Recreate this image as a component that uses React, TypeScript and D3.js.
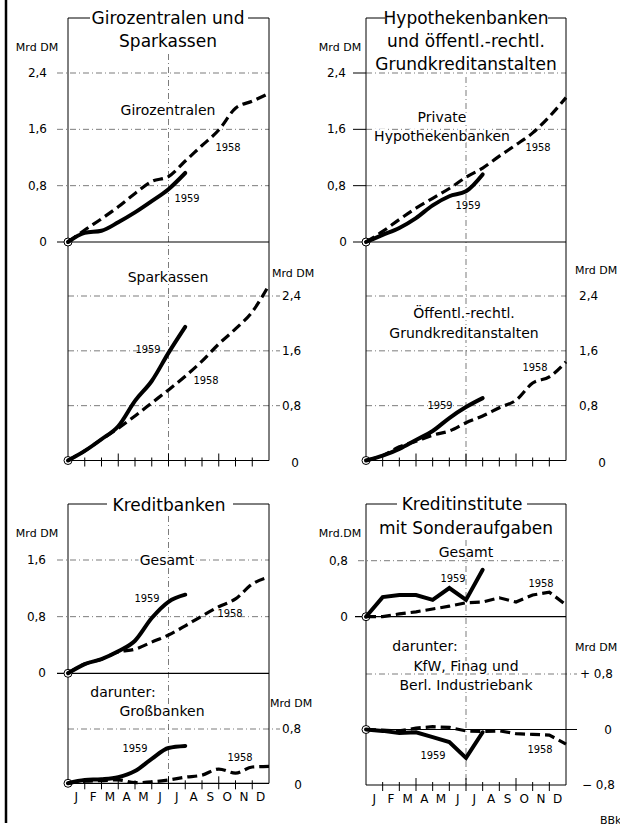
import React from "react";
import * as d3 from "d3";

const months = ["J", "F", "M", "A", "M", "J", "J", "A", "S", "O", "N", "D"];

// cumulative values (Mrd DM) at month ends; index 0 = start of year
const giro1958 = [0, 0.17, 0.33, 0.5, 0.69, 0.86, 0.93, 1.15, 1.37, 1.59, 1.9, 2.0, 2.11];
const giro1959 = [0, 0.13, 0.16, 0.28, 0.42, 0.58, 0.75, 0.98];
const spk1958 = [0, 0.14, 0.31, 0.47, 0.65, 0.84, 1.03, 1.23, 1.45, 1.7, 1.92, 2.17, 2.56];
const spk1959 = [0, 0.14, 0.31, 0.5, 0.87, 1.16, 1.57, 1.95];
const hyp1958 = [0, 0.15, 0.32, 0.48, 0.62, 0.76, 0.92, 1.05, 1.22, 1.38, 1.55, 1.78, 2.05];
const hyp1959 = [0, 0.1, 0.2, 0.34, 0.52, 0.65, 0.72, 0.96];
const oeff1958 = [0, 0.07, 0.2, 0.28, 0.37, 0.43, 0.55, 0.65, 0.77, 0.88, 1.13, 1.22, 1.44];
const oeff1959 = [0, 0.07, 0.17, 0.3, 0.43, 0.62, 0.78, 0.91];
const kb1958 = [0, 0.13, 0.2, 0.3, 0.34, 0.44, 0.54, 0.67, 0.81, 0.94, 1.05, 1.26, 1.36];
const kb1959 = [0, 0.13, 0.2, 0.31, 0.46, 0.78, 1.01, 1.11];
const gb1958 = [0, 0.03, 0.04, 0.05, 0.01, 0.02, 0.05, 0.09, 0.12, 0.21, 0.15, 0.24, 0.25];
const gb1959 = [0, 0.05, 0.06, 0.09, 0.18, 0.36, 0.52, 0.55];
const ks1958 = [0, 0.0, 0.04, 0.07, 0.11, 0.15, 0.2, 0.21, 0.27, 0.21, 0.31, 0.35, 0.17];
const ks1959 = [0, 0.28, 0.31, 0.31, 0.24, 0.41, 0.24, 0.67];
const kfw1958 = [0, -0.01, -0.02, 0.02, 0.04, 0.03, -0.02, -0.03, -0.02, -0.06, -0.07, -0.08, -0.21];
const kfw1959 = [0, -0.02, -0.05, -0.04, -0.11, -0.18, -0.41, -0.04];

const ticks24 = [0.8, 1.6, 2.4];
const tickLabels24 = ["0,8", "1,6", "2,4"];
const ticks16 = [0.8, 1.6];
const tickLabels16 = ["0,8", "1,6"];

const FONT = "'DejaVu Sans', sans-serif";
const FONT_C = "'DejaVu Sans Condensed', 'DejaVu Sans', sans-serif";
const GRID = "6 3 1 3";

type Sub = {
  x0: number; x1: number;
  yDom: [number, number]; yRng: [number, number];
  s58: number[]; s59: number[];
  curve: any;
};

function Lines({ sub }: { sub: Sub }) {
  const x = d3.scaleLinear().domain([0, 12]).range([sub.x0, sub.x1]);
  const y = d3.scaleLinear().domain(sub.yDom).range(sub.yRng);
  const line = d3.line<number>().x((_, i) => x(i)).y((d) => y(d)).curve(sub.curve);
  return (
    <g>
      <circle cx={x(0)} cy={y(0)} r={4} fill="#fff" stroke="#000" strokeWidth={1} />
      <path d={line(sub.s58) || ""} fill="none" stroke="#000" strokeWidth={3.2} strokeDasharray="10 5" />
      <path d={line(sub.s59) || ""} fill="none" stroke="#000" strokeWidth={4} strokeLinecap="round" />
    </g>
  );
}

function T(props: any) {
  const { x, y, size = 12, anchor = "middle", family = FONT, halo = false, children, ...rest } = props;
  return (
    <text
      x={x} y={y} fontSize={size} textAnchor={anchor} dominantBaseline="central" fontFamily={family} fill="#000"
      stroke={halo ? "#fff" : "none"} strokeWidth={halo ? 4 : 0} paintOrder="stroke" {...rest}
    >
      {children}
    </text>
  );
}

function XAxis({ x0, x1, y, labels }: { x0: number; x1: number; y: number; labels: boolean }) {
  const x = d3.scaleLinear().domain([0, 12]).range([x0, x1]);
  const b = d3.range(1, 12);
  return (
    <g>
      <line x1={x0} x2={x1} y1={y} y2={y} stroke="#000" strokeWidth={1.2} />
      {b.map((i) => (
        <line key={i} x1={x(i)} x2={x(i)} y1={i % 3 === 0 ? y - 7 : y - 3} y2={y + 6} stroke="#000" strokeWidth={1} />
      ))}
      {labels && months.map((m, i) => (
        <T key={i} x={x(i + 0.5)} y={y + 14} size={12}>{m}</T>
      ))}
    </g>
  );
}

function HGrid({ x0, x1, y }: { x0: number; x1: number; y: number }) {
  return <line x1={x0} x2={x1} y1={y} y2={y} stroke="#444" strokeWidth={0.7} strokeDasharray={GRID} />;
}

export default function App() {
  const L0 = 68, L1 = 269, R0 = 366, R1 = 566;
  const xL = d3.scaleLinear().domain([0, 12]).range([L0, L1]);
  const xR = d3.scaleLinear().domain([0, 12]).range([R0, R1]);

  const yTL = d3.scaleLinear().domain([0, 2.4]).range([242, 73]);
  const yML = d3.scaleLinear().domain([0, 2.4]).range([460.5, 296]);
  const yBL = d3.scaleLinear().domain([0, 1.6]).range([673.3, 560]);
  const yGB = d3.scaleLinear().domain([0, 0.8]).range([783.3, 729]);
  const yBR = d3.scaleLinear().domain([0, 0.8]).range([616.7, 560.7]);
  const yKF = d3.scaleLinear().domain([-0.8, 0.8]).range([785, 674]);

  const mono = d3.curveMonotoneX;
  const lin = d3.curveLinear;

  const subs: Sub[] = [
    { x0: L0, x1: L1, yDom: [0, 2.4], yRng: [242, 73], s58: giro1958, s59: giro1959, curve: mono },
    { x0: L0, x1: L1, yDom: [0, 2.4], yRng: [460.5, 296], s58: spk1958, s59: spk1959, curve: mono },
    { x0: R0, x1: R1, yDom: [0, 2.4], yRng: [242, 73], s58: hyp1958, s59: hyp1959, curve: mono },
    { x0: R0, x1: R1, yDom: [0, 2.4], yRng: [460.5, 296], s58: oeff1958, s59: oeff1959, curve: mono },
    { x0: L0, x1: L1, yDom: [0, 1.6], yRng: [673.3, 560], s58: kb1958, s59: kb1959, curve: mono },
    { x0: L0, x1: L1, yDom: [0, 0.8], yRng: [783.3, 729], s58: gb1958, s59: gb1959, curve: mono },
    { x0: R0, x1: R1, yDom: [0, 0.8], yRng: [616.7, 560.7], s58: ks1958, s59: ks1959, curve: lin },
    { x0: R0, x1: R1, yDom: [-0.8, 0.8], yRng: [785, 674], s58: kfw1958, s59: kfw1959, curve: lin },
  ];

  const frame = (x0: number, x1: number, top: number, bottom: number, gapL: number, gapR: number) => (
    <g stroke="#000" strokeWidth={1} fill="none">
      <line x1={x0} x2={gapL} y1={top} y2={top} />
      <line x1={gapR} x2={x1} y1={top} y2={top} />
      <line x1={x0} x2={x0} y1={top} y2={bottom} />
      <line x1={x1} x2={x1} y1={top} y2={bottom} />
    </g>
  );

  return (
    <svg width={620} height={830} style={{ position: "absolute", left: 0, top: 0, background: "#fff" }}>
      <rect width={620} height={830} fill="#fff" />
      <line x1={6} x2={6} y1={0} y2={823} stroke="#000" strokeWidth={2.5} />

      {/* ---------- grids ---------- */}
      {ticks24.map((t) => <HGrid key={"a" + t} x0={57} x1={L1} y={yTL(t)} />)}
      {ticks24.map((t) => <HGrid key={"b" + t} x0={L0} x1={280} y={yML(t)} />)}
      {ticks24.map((t) => <HGrid key={"c" + t} x0={R0} x1={R1} y={yTL(t)} />)}
      {ticks24.map((t) => <HGrid key={"d" + t} x0={R0} x1={R1} y={yML(t)} />)}
      {ticks16.map((t) => <HGrid key={"e" + t} x0={57} x1={L1} y={yBL(t)} />)}
      <HGrid x0={L0} x1={280} y={yGB(0.8)} />
      <HGrid x0={R0 - 8} x1={R1} y={yBR(0.8)} />
      <HGrid x0={R0} x1={577} y={yKF(0.8)} />
      <line x1={xL(6)} x2={xL(6)} y1={54} y2={460} stroke="#444" strokeWidth={0.7} strokeDasharray={GRID} />
      <line x1={xR(6)} x2={xR(6)} y1={77} y2={460} stroke="#444" strokeWidth={0.7} strokeDasharray={GRID} />
      <line x1={xL(6)} x2={xL(6)} y1={516} y2={783} stroke="#444" strokeWidth={0.7} strokeDasharray={GRID} />
      <line x1={xR(6)} x2={xR(6)} y1={540} y2={785} stroke="#444" strokeWidth={0.7} strokeDasharray={GRID} />

      {/* ---------- frames ---------- */}
      {frame(L0, L1, 18, 460.5, 90, 248)}
      {frame(R0, R1, 18, 460.5, 385, 548)}
      {frame(L0, L1, 504, 783.3, 107, 233)}
      {frame(R0, R1, 504, 785, 397, 527)}

      {/* zero lines of upper sub-panels */}
      <line x1={57} x2={L1} y1={yTL(0)} y2={yTL(0)} stroke="#000" strokeWidth={1.2} />
      <line x1={353} x2={R1} y1={yTL(0)} y2={yTL(0)} stroke="#000" strokeWidth={1.2} />
      <line x1={57} x2={L1} y1={yBL(0)} y2={yBL(0)} stroke="#000" strokeWidth={1.2} />
      <line x1={355} x2={R1} y1={yBR(0)} y2={yBR(0)} stroke="#000" strokeWidth={1.2} />
      <line x1={R0} x2={577} y1={yKF(0)} y2={yKF(0)} stroke="#000" strokeWidth={1.2} />
      {ticks24.map((t) => <line key={"tk" + t} x1={353} x2={R0} y1={yTL(t)} y2={yTL(t)} stroke="#000" strokeWidth={1} />)}

      {/* bottom axes */}
      <XAxis x0={L0} x1={L1} y={460.5} labels={false} />
      <XAxis x0={R0} x1={R1} y={460.5} labels={false} />
      <XAxis x0={L0} x1={L1} y={783.3} labels={true} />
      <XAxis x0={R0} x1={R1} y={785} labels={true} />

      {/* ---------- series names (drawn over grid) ---------- */}
      <T x={168} y={110} size={14} halo>Girozentralen</T>
      <T x={442} y={117} size={14} halo>Private</T>
      <T x={442} y={136} size={14} halo>Hypothekenbanken</T>
      <T x={168} y={277} size={14} halo>Sparkassen</T>
      <T x={464} y={313} size={14} halo>Öffentl.-rechtl.</T>
      <T x={464} y={333} size={14} halo>Grundkreditanstalten</T>
      <T x={167} y={560} size={14} halo>Gesamt</T>
      <T x={123} y={692} size={14} halo>darunter:</T>
      <T x={162} y={711} size={14} halo>Großbanken</T>
      <T x={466} y={552} size={14} halo>Gesamt</T>
      <T x={425} y={646} size={14} halo>darunter:</T>
      <T x={466} y={666} size={14} halo>KfW, Finag und</T>
      <T x={466} y={685} size={14} halo>Berl. Industriebank</T>

      {/* ---------- data lines ---------- */}
      {subs.map((s, i) => <Lines key={i} sub={s} />)}

      {/* ---------- titles ---------- */}
      <T x={168} y={18} size={17}>Girozentralen und</T>
      <T x={168} y={41} size={17} halo>Sparkassen</T>
      <T x={466} y={18} size={17}>Hypothekenbanken</T>
      <T x={466} y={41} size={17} halo>und öffentl.-rechtl.</T>
      <T x={466} y={64} size={17} halo>Grundkreditanstalten</T>
      <T x={169} y={505} size={17}>Kreditbanken</T>
      <T x={462} y={504} size={17}>Kreditinstitute</T>
      <T x={466} y={528} size={17} halo>mit Sonderaufgaben</T>

      {/* ---------- unit labels ---------- */}
      <T x={37} y={47} size={11}>Mrd DM</T>
      <T x={340} y={47} size={11}>Mrd DM</T>
      <T x={272} y={273} size={11} anchor="start">Mrd DM</T>
      <T x={575} y={270} size={11} anchor="start">Mrd DM</T>
      <T x={37} y={533} size={11}>Mrd DM</T>
      <T x={340} y={533} size={11}>Mrd.DM</T>
      <T x={270} y={703} size={11} anchor="start">Mrd DM</T>
      <T x={575} y={647} size={11} anchor="start">Mrd DM</T>

      {/* ---------- tick labels ---------- */}
      {ticks24.map((t, i) => <T key={"l1" + t} x={47} y={yTL(t)} size={12} anchor="end">{tickLabels24[i]}</T>)}
      <T x={47} y={yTL(0)} size={12} anchor="end">0</T>
      {ticks24.map((t, i) => <T key={"l2" + t} x={346} y={yTL(t)} size={12} anchor="end">{tickLabels24[i]}</T>)}
      <T x={347} y={yTL(0)} size={12} anchor="end">0</T>
      {ticks24.map((t, i) => <T key={"l3" + t} x={282} y={yML(t)} size={12} anchor="start">{tickLabels24[i]}</T>)}
      <T x={295} y={yML(0) + 2} size={12}>0</T>
      {ticks24.map((t, i) => <T key={"l4" + t} x={579} y={yML(t)} size={12} anchor="start">{tickLabels24[i]}</T>)}
      <T x={602} y={yML(0) + 2} size={12}>0</T>
      {ticks16.map((t, i) => <T key={"l5" + t} x={46} y={yBL(t)} size={12} anchor="end">{tickLabels16[i]}</T>)}
      <T x={46} y={yBL(0)} size={12} anchor="end">0</T>
      <T x={282} y={yGB(0.8)} size={12} anchor="start">0,8</T>
      <T x={298} y={yGB(0) + 2} size={12}>0</T>
      <T x={348} y={yBR(0.8)} size={12} anchor="end">0,8</T>
      <T x={348} y={yBR(0)} size={12} anchor="end">0</T>
      <T x={580} y={yKF(0.8)} size={12} anchor="start">+ 0,8</T>
      <T x={608} y={yKF(0)} size={12}>0</T>
      <T x={582} y={yKF(-0.8)} size={12} anchor="start">− 0,8</T>

      {/* ---------- year labels ---------- */}
      <T x={228} y={147} size={11} family={FONT_C}>1958</T>
      <T x={187} y={198} size={11} family={FONT_C}>1959</T>
      <T x={538} y={147} size={11} family={FONT_C}>1958</T>
      <T x={468} y={205} size={11} family={FONT_C}>1959</T>
      <T x={148} y={349} size={11} family={FONT_C}>1959</T>
      <T x={206} y={380} size={11} family={FONT_C}>1958</T>
      <T x={535} y={367} size={11} family={FONT_C}>1958</T>
      <T x={440} y={405} size={11} family={FONT_C}>1959</T>
      <T x={147} y={598} size={11} family={FONT_C}>1959</T>
      <T x={230} y={613} size={11} family={FONT_C}>1958</T>
      <T x={135} y={748} size={11} family={FONT_C}>1959</T>
      <T x={240} y={757} size={11} family={FONT_C}>1958</T>
      <T x={453} y={578} size={11} family={FONT_C}>1959</T>
      <T x={541} y={583} size={11} family={FONT_C}>1958</T>
      <T x={433} y={755} size={11} family={FONT_C}>1959</T>
      <T x={540} y={749} size={11} family={FONT_C}>1958</T>

      <T x={600} y={820} size={11} anchor="start">BBk</T>
    </svg>
  );
}
